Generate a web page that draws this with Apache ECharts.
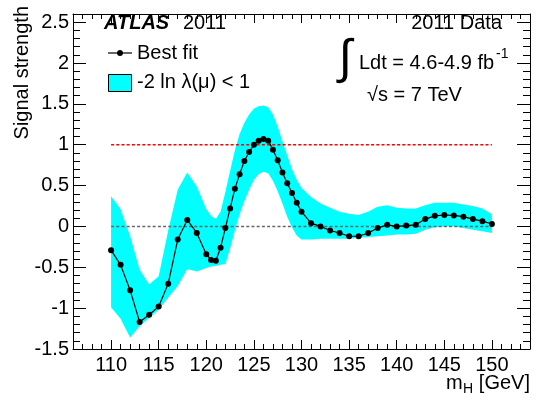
<!DOCTYPE html>
<html><head><meta charset="utf-8">
<script src="https://cdn.jsdelivr.net/npm/echarts@6/dist/echarts.min.js"></script>
<style>html,body{margin:0;padding:0;background:#fff}#c{width:545px;height:400px}</style>
</head><body><div id="c"></div>
<script>
// Higgs mass hypothesis points [GeV]
const massPoints = [110,111,112,113,114,115,116,117,118,119,
  120,120.5,121,121.5,122,122.5,123,123.5,124,124.5,125,125.5,126,126.5,127,127.5,128,128.5,129,129.5,130,
  131,132,133,134,135,136,137,138,139,140,141,142,143,144,145,146,147,148,149,150];
// best-fit signal strength
const bestFit = [-0.29,-0.47,-0.78,-1.17,-1.08,-0.98,-0.70,-0.16,0.08,-0.08,
  -0.34,-0.41,-0.42,-0.26,-0.02,0.22,0.46,0.64,0.80,0.91,1.00,1.05,1.07,1.05,0.94,0.81,0.66,0.53,0.41,0.29,0.18,
  0.04,0.00,-0.05,-0.08,-0.12,-0.12,-0.08,-0.02,0.02,0.00,0.01,0.02,0.09,0.13,0.14,0.135,0.12,0.09,0.065,0.03];
// -2 ln lambda(mu) < 1 band edges
const bandLow = [-0.99,-1.13,-1.36,-1.22,-1.12,-1.02,-0.87,-0.73,-0.52,-0.55,
  -0.51,-0.49,-0.48,-0.47,-0.46,-0.27,-0.05,0.15,0.31,0.45,0.57,0.64,0.67,0.65,0.56,0.43,0.28,0.12,-0.01,-0.11,-0.16,
  -0.16,-0.15,-0.15,-0.15,-0.15,-0.14,-0.13,-0.12,-0.11,-0.10,-0.10,-0.09,-0.04,-0.01,0.00,0.00,-0.02,-0.04,-0.06,-0.08];
const bandHigh = [0.37,0.21,-0.12,-0.53,-0.71,-0.61,-0.05,0.45,0.66,0.49,
  0.21,0.13,0.09,0.18,0.42,0.68,0.93,1.13,1.27,1.37,1.44,1.47,1.48,1.46,1.37,1.22,1.04,0.87,0.70,0.57,0.47,
  0.36,0.28,0.23,0.18,0.155,0.14,0.18,0.24,0.26,0.23,0.22,0.22,0.26,0.29,0.29,0.29,0.27,0.25,0.22,0.15];
// reference lines
const refMass = [110, 150];
const muOne = [1, 1];
const muZero = [0, 0];

const FONT = '"Liberation Sans", Arial, Helvetica, sans-serif';
const L = 73, R = 530, T = 14, B = 349, W = 545, H = 400;
const xMin = 106, xMax = 154, yMin = -1.5, yMax = 2.6;
const pxPer = (R - L) / (xMax - xMin);
const g1Left = L + (110 - xMin) * pxPer;
const g1Right = W - (L + (150 - xMin) * pxPer);

const pair = (xs, ys) => xs.map((x, i) => [x, ys[i]]);
const bandData = massPoints.map((x, i) => [x, bandLow[i], bandHigh[i]]);

const line = {show: true, onZero: false, lineStyle: {color: '#000', width: 1}};
const noLine = {show: false, onZero: false};
function xAx(grid, pos, min, max, interval, tickLen, labels, showLine) {
  return {gridIndex: grid, type: 'value', position: pos, min, max, interval,
    axisLine: showLine ? line : noLine,
    axisTick: {show: true, inside: true, length: tickLen, lineStyle: {color: '#000', width: 1}},
    axisLabel: labels ? {show: true, fontSize: 20, color: '#000', fontFamily: FONT, margin: 6} : {show: false},
    splitLine: {show: false}};
}
function yAx(pos, interval, tickLen, labels, showLine) {
  return {gridIndex: 0, type: 'value', position: pos, min: yMin, max: yMax, interval,
    axisLine: showLine ? line : noLine,
    axisTick: {show: true, inside: true, length: tickLen, lineStyle: {color: '#000', width: 1}},
    axisLabel: labels ? {show: true, fontSize: 20, color: '#000', fontFamily: FONT, margin: 4,
      formatter: v => (v > 2.55 ? '' : String(+(+v).toFixed(1)))} : {show: false},
    splitLine: {show: false}};
}

const txt = (text, x, y, size, align, weight) => ({type: 'text', x, y, silent: true,
  style: {text, fill: '#000', font: (weight || '') + ' ' + size + 'px ' + FONT, align, verticalAlign: 'middle',
    textAlign: align, textVerticalAlign: 'middle'}});

function renderBand(params, api) {
  if (params.dataIndex !== 0) return null;
  const n = bandData.length;
  const pts = [];
  for (let i = 0; i < n; i++) pts.push(api.coord([bandData[i][0], bandData[i][2]]));
  for (let i = n - 1; i >= 0; i--) pts.push(api.coord([bandData[i][0], bandData[i][1]]));
  return {type: 'polygon', shape: {points: pts}, style: {fill: '#00ffff', stroke: 'none'}};
}

const option = {
  animation: false,
  backgroundColor: '#fff',
  grid: [
    {left: L, right: W - R, top: T, bottom: H - B, containLabel: false},
    {left: g1Left, right: g1Right, top: T, bottom: H - B, containLabel: false}
  ],
  xAxis: [
    xAx(0, 'bottom', xMin, xMax, 1, 5, false, true),
    xAx(0, 'top', xMin, xMax, 1, 5, false, true),
    xAx(1, 'bottom', 110, 150, 5, 9, true, false),
    xAx(1, 'top', 110, 150, 5, 9, false, false)
  ],
  yAxis: [
    yAx('left', 0.5, 13, true, true),
    yAx('left', 0.1, 7, false, false),
    yAx('right', 0.5, 13, false, true),
    yAx('right', 0.1, 7, false, false),
    {gridIndex: 1, type: 'value', min: 0, max: 1, show: false}
  ],
  series: [
    {type: 'custom', xAxisIndex: 0, yAxisIndex: 0, data: bandData, renderItem: renderBand,
      encode: {x: 0, y: [1, 2]}, silent: true, z: 1},
    {type: 'line', xAxisIndex: 0, yAxisIndex: 0, data: pair(refMass, muZero), symbol: 'none', silent: true, z: 2,
      lineStyle: {color: '#666', width: 1.6, type: [3, 2.2]}},
    {type: 'line', xAxisIndex: 0, yAxisIndex: 0, data: pair(refMass, muOne), symbol: 'none', silent: true, z: 2,
      lineStyle: {color: '#ff0000', width: 1.6, type: [3, 2.2]}},
    {type: 'line', xAxisIndex: 0, yAxisIndex: 0, data: pair(massPoints, bestFit), symbol: 'circle', symbolSize: 6,
      silent: true, z: 3, lineStyle: {color: '#000', width: 1.2}, itemStyle: {color: '#000'}}
  ],
  graphic: {elements: [
    Object.assign(txt('Signal strength', 22, 6, 20, 'right'), {rotation: Math.PI / 2}),
    txt('ATLAS', 104, 23, 20, 'left', 'italic bold'),
    txt('2011', 183, 23, 20, 'left'),
    {type: 'line', silent: true, shape: {x1: 108, y1: 53, x2: 132, y2: 53}, style: {stroke: '#000', lineWidth: 1.2}},
    {type: 'circle', silent: true, shape: {cx: 120, cy: 53, r: 3}, style: {fill: '#000'}},
    txt('Best fit', 137, 53, 20, 'left'),
    {type: 'rect', silent: true, shape: {x: 108.5, y: 74.5, width: 23, height: 17}, style: {fill: '#00ffff', stroke: '#000', lineWidth: 1}},
    txt('-2 ln λ(μ) < 1', 137, 82, 20, 'left'),
    txt('2011 Data', 502, 23, 20, 'right'),
    txt('∫', 345, 60, 48, 'center'),
    txt('Ldt = 4.6-4.9 fb', 359, 63, 20, 'left'),
    txt('-1', 496, 54, 14, 'left'),
    txt('√s = 7 TeV', 367, 95, 20, 'left'),
    txt('[GeV]', 530, 383, 20, 'right'),
    txt('H', 463, 389, 14, 'left'),
    txt('m', 446, 383, 20, 'left')
  ]}
};
const chart = echarts.init(document.getElementById('c'), null, {renderer: 'canvas'});
chart.setOption(option);
</script></body></html>
